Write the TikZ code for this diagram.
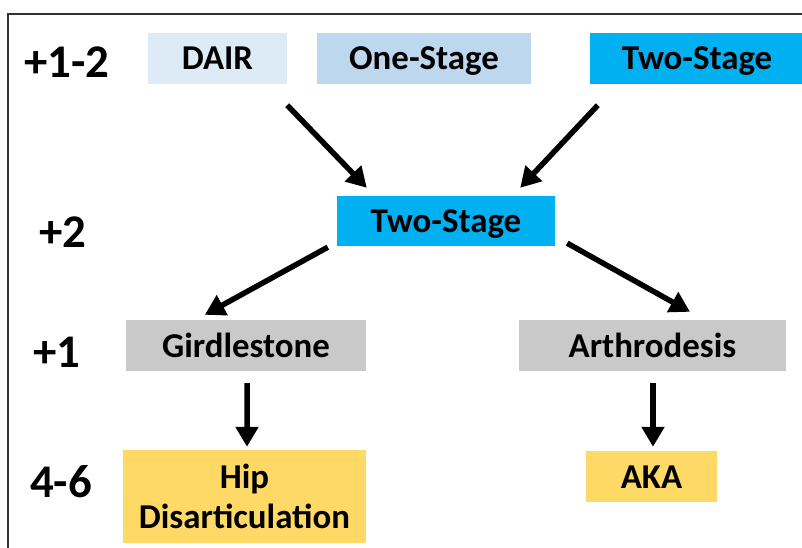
\documentclass[tikz,border=0pt]{standalone}
\usepackage{fontspec}
\setmainfont{Carlito}
\usepackage{tikz}
\usetikzlibrary{arrows.meta, positioning, calc}

\definecolor{dairblue}{HTML}{DDEBF7}
\definecolor{oneblue}{HTML}{BDD7EE}
\definecolor{twoblue}{HTML}{00B0F0}
\definecolor{boxgray}{HTML}{C9C9C9}
\definecolor{boxyellow}{HTML}{FFD966}

\begin{document}
\begin{tikzpicture}[x=1bp, y=-1bp,
    box/.style={inner sep=0pt, minimum height=51bp, align=center,
        text height=23bp, text depth=0pt,
        font=\fontsize{35}{40}\selectfont\bfseries},
    lvl/.style={inner sep=0pt, font=\fontsize{47}{50}\selectfont\bfseries},
    arr/.style={line width=5.5bp, -{Triangle[length=20bp, width=22bp]}}]
    \useasboundingbox (0,0) rectangle (802,548);
    \draw[line width=1.5bp, black!80] (8,548) -- (8,14) -- (802,14);

    % levels
    \node[lvl] (l12) at (67,62) {+1-2};
    \node[lvl] (l2) at (63,232) {+2};
    \node[lvl] (l1) at (57,352) {+1};
    \node[lvl] (l46) at (61,482) {4-6};

    % boxes
    \node[box, fill=dairblue, minimum width=139bp] (dair) at (217.5,58.5) {DAIR};
    \node[box, fill=oneblue, minimum width=214bp] (one) at (424,58.5) {One-Stage};
    \node[box, fill=twoblue, minimum width=214bp] (twotop) at (697,58.5) {Two-Stage};
    \node[box, fill=twoblue, minimum width=218bp, minimum height=50bp] (mid) at (446,221) {Two-Stage};
    \node[box, fill=boxgray, minimum width=240bp] (gird) at (246,345.5) {Girdlestone};
    \node[box, fill=boxgray, minimum width=267bp] (arth) at (652.5,345.5) {Arthrodesis};
    \node[box, fill=boxyellow, minimum width=243bp, minimum height=93bp,
        text height=, text depth=] (hip) at (244.5,496.5) {Hip\\Disarticulation};
    \node[box, fill=boxyellow, minimum width=131bp] (aka) at (651.5,476.5) {AKA};

    % arrows
    \draw[arr] ($(dair.south east)+(0,21)$) -- ($(mid.north west)+(30,-8)$);
    \draw[arr] ($(twotop.south west)+(8,21)$) -- ($(mid.north east)+(-35,-8)$);
    \draw[arr] ($(mid.south west)+(-9,1)$) -- ($(gird.north west)+(79,-5)$);
    \draw[arr] ($(mid.south east)+(12,-3)$) -- ($(arth.north)+(37.5,-8)$);
    \draw[arr] ($(gird.south)+(1,12)$) -- ($(hip.north)+(2.5,-3)$);
    \draw[arr] ($(arth.south)+(0.5,12)$) -- ($(aka.north)+(1.5,-4)$);
\end{tikzpicture}
\end{document}
